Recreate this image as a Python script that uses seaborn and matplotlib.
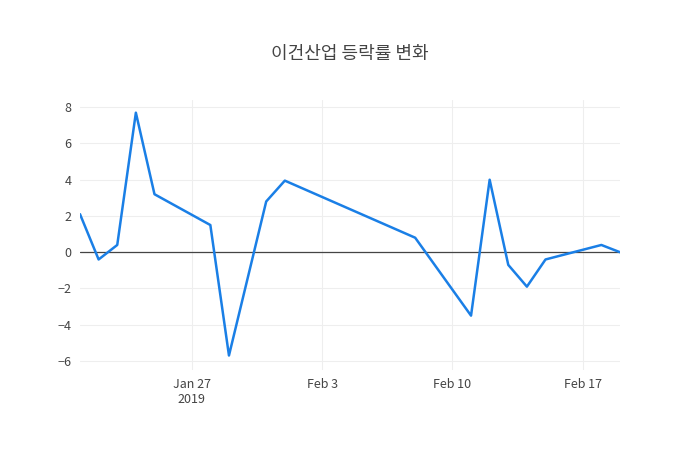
import pandas as pd
import numpy as np
import matplotlib.pyplot as plt
import matplotlib.dates as mdates
import seaborn as sns

sns.set_theme(style="white")
plt.rcParams['font.family'] = ['Noto Sans CJK KR', 'DejaVu Sans']

dates = ["2019-01-21", "2019-01-22", "2019-01-23", "2019-01-24", "2019-01-25",
         "2019-01-28", "2019-01-29", "2019-01-31", "2019-02-01", "2019-02-08",
         "2019-02-11", "2019-02-12", "2019-02-13", "2019-02-14", "2019-02-15",
         "2019-02-18", "2019-02-19"]
change = [2.1, -0.4, 0.4, 7.7, 3.2, 1.5, -5.7, 2.8, 3.95, 0.8,
          -3.5, 4.0, -0.7, -1.9, -0.4, 0.4, 0.0]

df = pd.DataFrame({"date": pd.to_datetime(dates), "change": change})

fig = plt.figure(figsize=(7, 4.5), dpi=100)
ax = fig.add_axes([80/700, 1-370/450, 540/700, 270/450])
ax.axhline(0, color="#444444", lw=0.9, zorder=1)
sns.lineplot(data=df, x="date", y="change", color="#1a7fe6", lw=1.8, ax=ax, zorder=2)

ax.set_xlim(df["date"].min(), df["date"].max())
ax.set_ylim(-6.5, 8.4)
ax.set_yticks([-6, -4, -2, 0, 2, 4, 6, 8])
ticks = pd.to_datetime(["2019-01-27", "2019-02-03", "2019-02-10", "2019-02-17"])
ax.set_xticks(ticks)
ax.set_xticklabels(["Jan 27\n2019", "Feb 3", "Feb 10", "Feb 17"])
ax.grid(True, color="#eeeeee", lw=0.8)
for s in ax.spines.values():
    s.set_visible(False)
ax.tick_params(colors="#444444", labelsize=9, length=0, pad=6)
ax.set_xlabel("")
ax.set_ylabel("")
fig.suptitle("이건산업 등락률 변화", y=1-45/450, fontsize=13, color="#444444")
fig.savefig("out.png", dpi=100)
